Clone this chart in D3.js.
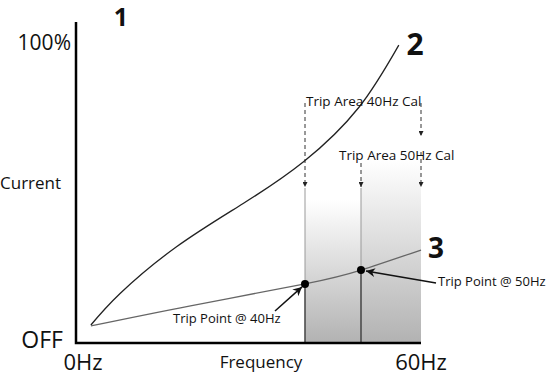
<!DOCTYPE html>
<html>
<head>
<meta charset="utf-8">
<script src="https://cdn.jsdelivr.net/npm/d3@7"></script>
<style>
  body { margin: 0; background: #fff; }
  svg text { font-family: "Open Sans", sans-serif; fill: #111; }
</style>
</head>
<body>
<div id="chart"></div>
<script>
// curve 2 (upper) and curve 3 (lower), Hz vs % current
const upperHz  = [2.6, 7.7, 17.5, 29.2, 39.8, 49.6, 56.3];
const upperPct = [6, 16.5, 32, 46.5, 60.5, 78.5, 99.3];
const lowerHz  = [2.6, 20, 40, 50, 60];
const lowerPct = [5.7, 12.4, 19.7, 24.3, 31];

const tripHz  = [40, 50];
const tripPct = [19.7, 24.3];
const tripLabels = ["Trip Point @ 40Hz", "Trip Point @ 50Hz"];

const bandStart = [40, 50];
const bandEnd   = [50, 60];
const areaLabels = ["Trip Area 40Hz Cal", "Trip Area 50Hz Cal"];

const xTicks = ["0Hz", "60Hz"];
const yTicks = ["OFF", "100%"];

let width = 550, height = 375;

let svg = d3.select("#chart")
    .append("svg")
    .attr("width", width)
    .attr("height", height);

let x = d3.scaleLinear()
    .domain([0, 40, 50, 60])
    .range([76, 305, 361, 421]);

let y = d3.scaleLinear()
    .domain([0, 100])
    .range([343, 43]);

let defs = svg.append("defs");

let grad = defs.append("linearGradient")
    .attr("id", "shade")
    .attr("x1", 0).attr("y1", 0)
    .attr("x2", 0).attr("y2", 1);
grad.append("stop").attr("offset", "0%").attr("stop-color", "#fff");
grad.append("stop").attr("offset", "100%").attr("stop-color", "#b2b2b2");

defs.append("marker")
    .attr("id", "tri")
    .attr("viewBox", "0 0 10 10")
    .attr("refX", 10).attr("refY", 5)
    .attr("markerWidth", 5).attr("markerHeight", 5)
    .attr("markerUnits", "userSpaceOnUse")
    .attr("orient", "auto")
    .append("path")
    .attr("d", "M0,0L10,5L0,10z")
    .attr("fill", "#222");

defs.append("marker")
    .attr("id", "bigTri")
    .attr("viewBox", "0 0 10 10")
    .attr("refX", 10).attr("refY", 5)
    .attr("markerWidth", 11).attr("markerHeight", 9)
    .attr("markerUnits", "userSpaceOnUse")
    .attr("orient", "auto")
    .append("path")
    .attr("d", "M0,0L10,5L0,10L3,5z")
    .attr("fill", "#111");

// shaded trip areas
let bandTops = [200, 160];
svg.append("g")
    .selectAll("rect")
    .data(bandStart)
    .enter().append("rect")
    .attr("x", d => x(d))
    .attr("y", (d, i) => bandTops[i])
    .attr("width", (d, i) => x(bandEnd[i]) - x(d))
    .attr("height", (d, i) => y(0) - bandTops[i])
    .attr("fill", "url(#shade)");

// band edges
svg.append("g")
    .selectAll("line")
    .data(bandStart)
    .enter().append("line")
    .attr("x1", d => x(d)).attr("x2", d => x(d))
    .attr("y1", 188).attr("y2", y(0))
    .attr("stroke", "#999")
    .attr("stroke-width", 1);

// darker lines from trip points down to axis
svg.append("g")
    .selectAll("line")
    .data(tripHz)
    .enter().append("line")
    .attr("x1", d => x(d)).attr("x2", d => x(d))
    .attr("y1", (d, i) => y(tripPct[i])).attr("y2", y(0))
    .attr("stroke", "#333")
    .attr("stroke-width", 1.2);

// dashed calibration arrows
let dashArrows = [
    {hz: 40, y1: 103, y2: 187},
    {hz: 60, y1: 103, y2: 136},
    {hz: 50, y1: 163, y2: 187},
    {hz: 60, y1: 152, y2: 187}
];
svg.append("g")
    .selectAll("line")
    .data(dashArrows)
    .enter().append("line")
    .attr("x1", d => x(d.hz)).attr("x2", d => x(d.hz))
    .attr("y1", d => d.y1).attr("y2", d => d.y2)
    .attr("stroke", "#333")
    .attr("stroke-width", 1)
    .attr("stroke-dasharray", "4,3")
    .attr("marker-end", "url(#tri)");

// curves
let line = d3.line()
    .x(d => x(d[0]))
    .y(d => y(d[1]))
    .curve(d3.curveNatural);

svg.append("path")
    .datum(upperHz.map((h, i) => [h, upperPct[i]]))
    .attr("d", line)
    .attr("fill", "none")
    .attr("stroke", "#222")
    .attr("stroke-width", 1.3);

svg.append("path")
    .datum(lowerHz.map((h, i) => [h, lowerPct[i]]))
    .attr("d", line)
    .attr("fill", "none")
    .attr("stroke", "#666")
    .attr("stroke-width", 1.3);

// axes
svg.append("path")
    .attr("d", "M" + x(0) + "," + 22 + "V" + y(0) + "H" + x(60))
    .attr("fill", "none")
    .attr("stroke", "#000")
    .attr("stroke-width", 2.5);

// trip point dots
svg.append("g")
    .selectAll("circle")
    .data(tripHz)
    .enter().append("circle")
    .attr("cx", d => x(d))
    .attr("cy", (d, i) => y(tripPct[i]))
    .attr("r", 4)
    .attr("fill", "#000");

// pointer arrows to trip points
let pointers = [
    {x1: 275, y1: 311, x2: x(40) - 3, y2: y(tripPct[0]) + 3},
    {x1: 436, y1: 283, x2: x(50) + 5, y2: y(tripPct[1]) + 1}
];
svg.append("g")
    .selectAll("line")
    .data(pointers)
    .enter().append("line")
    .attr("x1", d => d.x1).attr("y1", d => d.y1)
    .attr("x2", d => d.x2).attr("y2", d => d.y2)
    .attr("stroke", "#111")
    .attr("stroke-width", 1.5)
    .attr("marker-end", "url(#bigTri)");

// texts
svg.append("text").attr("x", 173).attr("y", 323)
    .attr("font-size", 13).text(tripLabels[0]);
svg.append("text").attr("x", 438).attr("y", 286)
    .attr("font-size", 13).text(tripLabels[1]);
svg.append("text").attr("x", 306).attr("y", 106)
    .attr("font-size", 13.5).text(areaLabels[0]);
svg.append("text").attr("x", 339).attr("y", 160)
    .attr("font-size", 13.5).text(areaLabels[1]);

svg.append("text").attr("x", 71).attr("y", 50)
    .attr("text-anchor", "end").attr("font-size", 21).text(yTicks[1]);
svg.append("text").attr("x", 63).attr("y", 348)
    .attr("text-anchor", "end").attr("font-size", 23).text(yTicks[0]);
svg.append("text").attr("x", 0).attr("y", 189)
    .attr("font-size", 17).text("Current");

svg.append("text").attr("x", 83).attr("y", 370)
    .attr("text-anchor", "middle").attr("font-size", 22).text(xTicks[0]);
svg.append("text").attr("x", 421).attr("y", 370)
    .attr("text-anchor", "middle").attr("font-size", 22).text(xTicks[1]);
svg.append("text").attr("x", 261).attr("y", 368)
    .attr("text-anchor", "middle").attr("font-size", 17).text("Frequency");

let nums = [
    {t: "1", x: 121, y: 26, s: 25},
    {t: "2", x: 415, y: 55, s: 30},
    {t: "3", x: 436, y: 258, s: 28}
];
svg.append("g")
    .selectAll("text")
    .data(nums)
    .enter().append("text")
    .attr("x", d => d.x).attr("y", d => d.y)
    .attr("text-anchor", "middle")
    .attr("font-size", d => d.s)
    .attr("font-weight", "bold")
    .text(d => d.t);
</script>
</body>
</html>
